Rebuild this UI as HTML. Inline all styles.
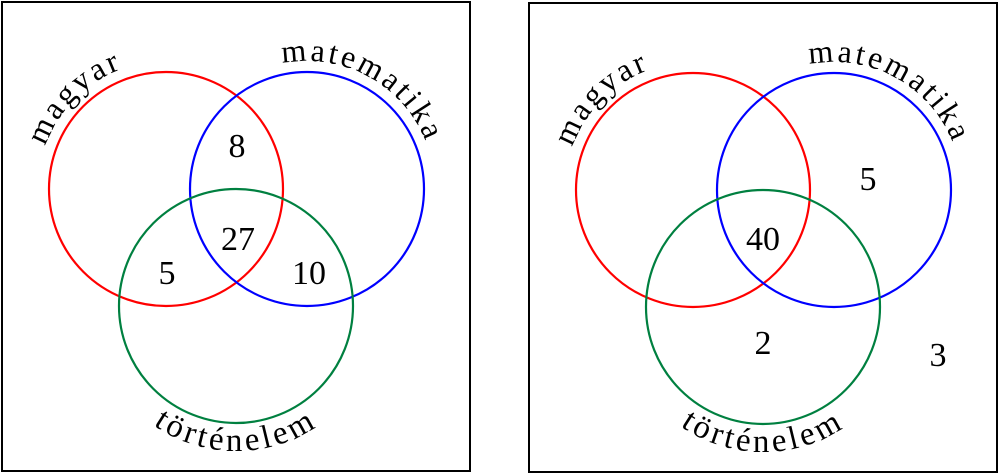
<!DOCTYPE html>
<html><head><meta charset="utf-8"><style>
html,body{margin:0;padding:0;background:#fff;}
svg{display:block;}
</style></head><body>
<svg width="1000" height="474" viewBox="0 0 1000 474" xmlns="http://www.w3.org/2000/svg" font-family="Liberation Serif, serif">
<defs>
<path id="pm" d="M38.5,200.2 A128,128 0 0 1 177.2,61.5"/>
<path id="pt" d="M261.1,69.5 A128,128 0 0 1 432.6,164.6"/>
<path id="ph" d="M124.9,399.2 A145,145 0 0 0 347.1,399.2"/>
</defs>
<g id="L">
<rect x="2" y="2" width="468" height="469" fill="none" stroke="#000" stroke-width="2"/>
<circle cx="166" cy="189" r="117" fill="none" stroke="#ff0000" stroke-width="2.2"/>
<circle cx="307" cy="189" r="117" fill="none" stroke="#0000ff" stroke-width="2.2"/>
<circle cx="236" cy="306" r="117" fill="none" stroke="#008040" stroke-width="2.2"/>
<text font-size="32" letter-spacing="3"><textPath href="#pm" startOffset="50%" text-anchor="middle">magyar</textPath></text>
<text font-size="32" letter-spacing="3"><textPath href="#pt" startOffset="50%" text-anchor="middle">matematika</textPath></text>
<text font-size="33" letter-spacing="3.5"><textPath href="#ph" startOffset="50%" text-anchor="middle">történelem</textPath></text>
</g>
<g font-size="34" text-anchor="middle">
<text x="237" y="157">8</text>
<text x="238" y="250">27</text>
<text x="167" y="284">5</text>
<text x="309" y="284">10</text>
<text x="763" y="250">40</text>
<text x="868" y="190">5</text>
<text x="763" y="354">2</text>
<text x="938" y="366">3</text>
</g>
<use href="#L" transform="translate(527,1)"/>
</svg>
</body></html>
